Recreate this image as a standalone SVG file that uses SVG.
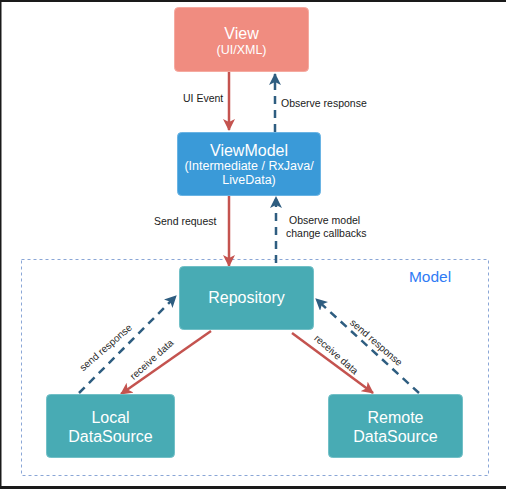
<svg xmlns="http://www.w3.org/2000/svg" width="506" height="489" viewBox="0 0 506 489">
<style>
.node rect{stroke-width:1}
.t{font-family:"Liberation Sans",Arial,sans-serif;fill:#fff;text-anchor:middle}
.big{font-size:16px}
.sub{font-size:12.5px}
.lbl{font-family:"Liberation Sans",Arial,sans-serif;font-size:10.5px;fill:#1a1a1a}
.rl{font-family:"Liberation Sans",Arial,sans-serif;font-size:10px;fill:#2a2a2a;text-anchor:middle}
.red{stroke:#c4534f;stroke-width:2.5;fill:none;marker-end:url(#ar)}
.dash{stroke:#2e5d80;stroke-width:2.5;fill:none;stroke-dasharray:8 6;marker-end:url(#ad)}
</style>
<defs>
<marker id="ar" viewBox="0 0 12 12" refX="11" refY="6" markerWidth="12" markerHeight="12" markerUnits="userSpaceOnUse" orient="auto">
<path d="M0,0 L12,6 L0,12 L3,6 z" fill="#c4534f"/>
</marker>
<marker id="ad" viewBox="0 0 12 12" refX="11" refY="6" markerWidth="12" markerHeight="12" markerUnits="userSpaceOnUse" orient="auto">
<path d="M0,0 L12,6 L0,12 L3,6 z" fill="#2e5d80"/>
</marker>
</defs>
<rect x="0" y="0" width="506" height="489" fill="#fff"/>
<rect x="0" y="0" width="506" height="2" fill="#1a1a1a"/>
<rect x="0" y="0" width="1.5" height="489" fill="#1a1a1a"/>
<rect x="0" y="486" width="506" height="3" fill="#1a1a1a"/>

<g id="model-group">
<rect x="21.5" y="259.5" width="467" height="216" fill="none" stroke="#8aa6d6" stroke-width="1" stroke-dasharray="3 3"/>
<text x="430" y="282" font-family="Liberation Sans,Arial,sans-serif" font-size="15.5" fill="#2f7bf5" text-anchor="middle">Model</text>
</g>

<g id="connectors">
<line class="red" x1="229" y1="72" x2="229" y2="130"/>
<line class="dash" x1="275" y1="132" x2="275" y2="74"/>
<line class="red" x1="229" y1="196" x2="229" y2="266"/>
<line class="dash" x1="276" y1="263" x2="276" y2="197"/>
<line class="dash" x1="79" y1="393" x2="176" y2="296"/>
<line class="red" x1="211" y1="331" x2="121" y2="394"/>
<line class="red" x1="292" y1="333" x2="373" y2="393"/>
<line class="dash" x1="419" y1="393" x2="316" y2="299"/>
<text class="lbl" x="183" y="102">UI Event</text>
<text class="lbl" x="281" y="107">Observe response</text>
<text class="lbl" x="154" y="225">Send request</text>
<text class="lbl" x="289" y="224">Observe model</text>
<text class="lbl" x="286" y="237">change callbacks</text>
<text class="rl" transform="translate(108,350) rotate(-41)">send response</text>
<text class="rl" transform="translate(154,362) rotate(-42)">receive data</text>
<text class="rl" transform="translate(334,357) rotate(41)">receive data</text>
<text class="rl" transform="translate(374,345) rotate(41)">send response</text>
</g>

<g id="view" class="node">
<rect x="174.5" y="7.5" width="134" height="64" rx="4" fill="#f08c80" stroke="#f5aaa0"/>
<text class="t big" x="241.5" y="39">View</text>
<text class="t sub" x="241.5" y="54">(UI/XML)</text>
</g>

<g id="viewmodel" class="node">
<rect x="177.5" y="132.5" width="143" height="63" rx="4" fill="#3a9ad8" stroke="#6ab4e4"/>
<text class="t big" x="249" y="156">ViewModel</text>
<text class="t sub" x="249" y="170">(Intermediate / RxJava/</text>
<text class="t sub" x="249" y="184">LiveData)</text>
</g>

<g id="repository" class="node">
<rect x="179.5" y="266.5" width="134" height="63" rx="4" fill="#48abb4" stroke="#72c0c7"/>
<text class="t big" x="246.5" y="303">Repository</text>
</g>

<g id="local" class="node">
<rect x="46.5" y="394.5" width="128" height="63" rx="4" fill="#48abb4" stroke="#72c0c7"/>
<text class="t big" x="110.5" y="423">Local</text>
<text class="t big" x="110.5" y="442">DataSource</text>
</g>

<g id="remote" class="node">
<rect x="328.5" y="394.5" width="134" height="63" rx="4" fill="#48abb4" stroke="#72c0c7"/>
<text class="t big" x="395.5" y="423">Remote</text>
<text class="t big" x="395.5" y="442">DataSource</text>
</g>
</svg>
